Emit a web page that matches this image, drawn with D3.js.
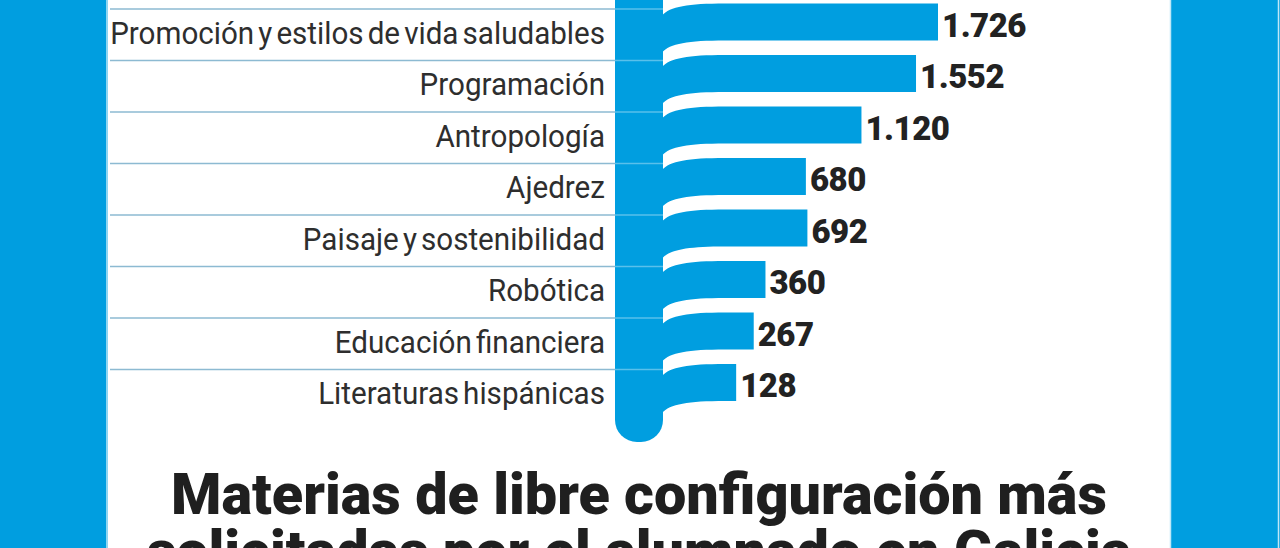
<!DOCTYPE html>
<html>
<head>
<meta charset="utf-8">
<script src="https://cdn.jsdelivr.net/npm/d3@7"></script>
<style>
  html, body { margin: 0; padding: 0; background: #009ee0; }
  svg { display: block; }
</style>
</head>
<body>
<svg id="chart" width="1280" height="548"></svg>
<script>
// ---- data ----
const categories = [
  "Promoción y estilos de vida saludables",
  "Programación",
  "Antropología",
  "Ajedrez",
  "Paisaje y sostenibilidad",
  "Robótica",
  "Educación financiera",
  "Literaturas hispánicas"
];
const values = [1726, 1552, 1120, 680, 692, 360, 267, 128];
const titleLines = [
  "Materias de libre configuración más",
  "solicitadas por el alumnado en Galicia"
];

// ---- layout ----
const W = 1280, H = 548;
const BLUE = "#009ee0";
const panelX0 = 108, panelX1 = 1170;
const trunkX0 = 615, trunkX1 = 663;
const labelX = 605;
const barH = 37, drop = 12;

const svg = d3.select("#chart");
const es = d3.formatLocale({decimal: ",", thousands: ".", grouping: [3], currency: ["", "€"]});
const fmt = es.format(",d");

const y = d3.scaleBand().domain(categories).range([9, 9 + categories.length * 51.5]).padding(0);
const x = d3.scaleLinear().domain([0, d3.max(values)]).range([720, 938]);

// background
svg.append("rect").attr("x", 0).attr("y", 0).attr("width", W).attr("height", H).attr("fill", BLUE);
svg.append("rect").attr("x", panelX0).attr("y", 0).attr("width", panelX1 - panelX0).attr("height", H).attr("fill", "#ffffff");
[panelX0 - 1, panelX1 + 0.5, W - 1.5].forEach(px => {
  svg.append("line").attr("x1", px).attr("x2", px).attr("y1", 0).attr("y2", H)
    .attr("stroke", "#bfe8f8").attr("stroke-width", 1.5);
});

// row separator lines (on white)
svg.append("g").selectAll("line").data(categories).join("line")
  .attr("x1", panelX0 + 2).attr("x2", trunkX0)
  .attr("y1", d => y(d)).attr("y2", d => y(d))
  .attr("stroke", "#8dbad2").attr("stroke-width", 1.5);

// trunk
const trunkBottom = y.range()[1] + 21;
const r = 22;
svg.append("path")
  .attr("d", `M${trunkX0},-10 H${trunkX1} V${trunkBottom - r} A${r},${r} 0 0 1 ${trunkX1 - r},${trunkBottom} H${trunkX0 + r} A${r},${r} 0 0 1 ${trunkX0},${trunkBottom - r} Z`)
  .attr("fill", BLUE);

// separator lines across trunk (lighter)
svg.append("g").selectAll("line").data(categories).join("line")
  .attr("x1", trunkX0).attr("x2", trunkX1)
  .attr("y1", d => y(d)).attr("y2", d => y(d))
  .attr("stroke", "rgba(255,255,255,0.35)").attr("stroke-width", 1.5);

// bars (ribbons bending into the trunk)
const data = categories.map((c, i) => ({c, v: values[i]}));
const xc = 725;
svg.append("g").selectAll("path").data(data).join("path")
  .attr("fill", BLUE)
  .attr("d", d => {
    const T = y(d.c) - 5.5;
    const xe = x(d.v);
    const tx = trunkX1 - 1;
    return `M${tx},${T + drop} C${tx + 8},${T + 3} ${tx + 26},${T} ${xc},${T} H${xe} V${T + barH} H${xc} ` +
           `C${tx + 26},${T + barH} ${tx + 8},${T + barH + 3} ${tx},${T + barH + drop} Z`;
  });

// category labels
const labG = svg.append("g")
  .attr("font-family", "Roboto, 'Open Sans', sans-serif")
  .attr("font-size", 32)
  .attr("word-spacing", -3.5)
  .attr("fill", "#2e2e2e");
const labs = labG.selectAll("text").data(categories).join("text")
  .attr("text-anchor", "end")
  .text(d => d);
let maxLen = 0;
labs.each(function() { maxLen = Math.max(maxLen, this.getComputedTextLength()); });
const lsx = 495 / maxLen;
labs.attr("transform", d => `translate(${labelX},${y(d) + 34.5}) scale(${lsx},1)`);

// value labels
svg.append("g")
  .attr("font-family", "Roboto, 'Open Sans', sans-serif")
  .attr("font-size", 33)
  .attr("font-weight", 900)
  .attr("fill", "#222")
  .selectAll("text").data(data).join("text")
  .attr("x", d => x(d.v) + 4)
  .attr("y", d => y(d.c) + 27.5)
  .attr("letter-spacing", -0.5)
  .text(d => fmt(d.v));

// title
const tG = svg.append("g")
  .attr("font-family", "Roboto, 'Open Sans', sans-serif")
  .attr("font-size", 58)
  .attr("font-weight", 900)
  .attr("fill", "#1f1f1f");
const t1 = tG.append("text").attr("text-anchor", "middle").text(titleLines[0]);
const tsx = 936 / t1.node().getComputedTextLength();
t1.attr("transform", `translate(639,514) scale(${tsx},1)`);
tG.append("text").attr("text-anchor", "middle").text(titleLines[1])
  .attr("transform", `translate(639,571) scale(${tsx},1)`);
</script>
</body>
</html>
